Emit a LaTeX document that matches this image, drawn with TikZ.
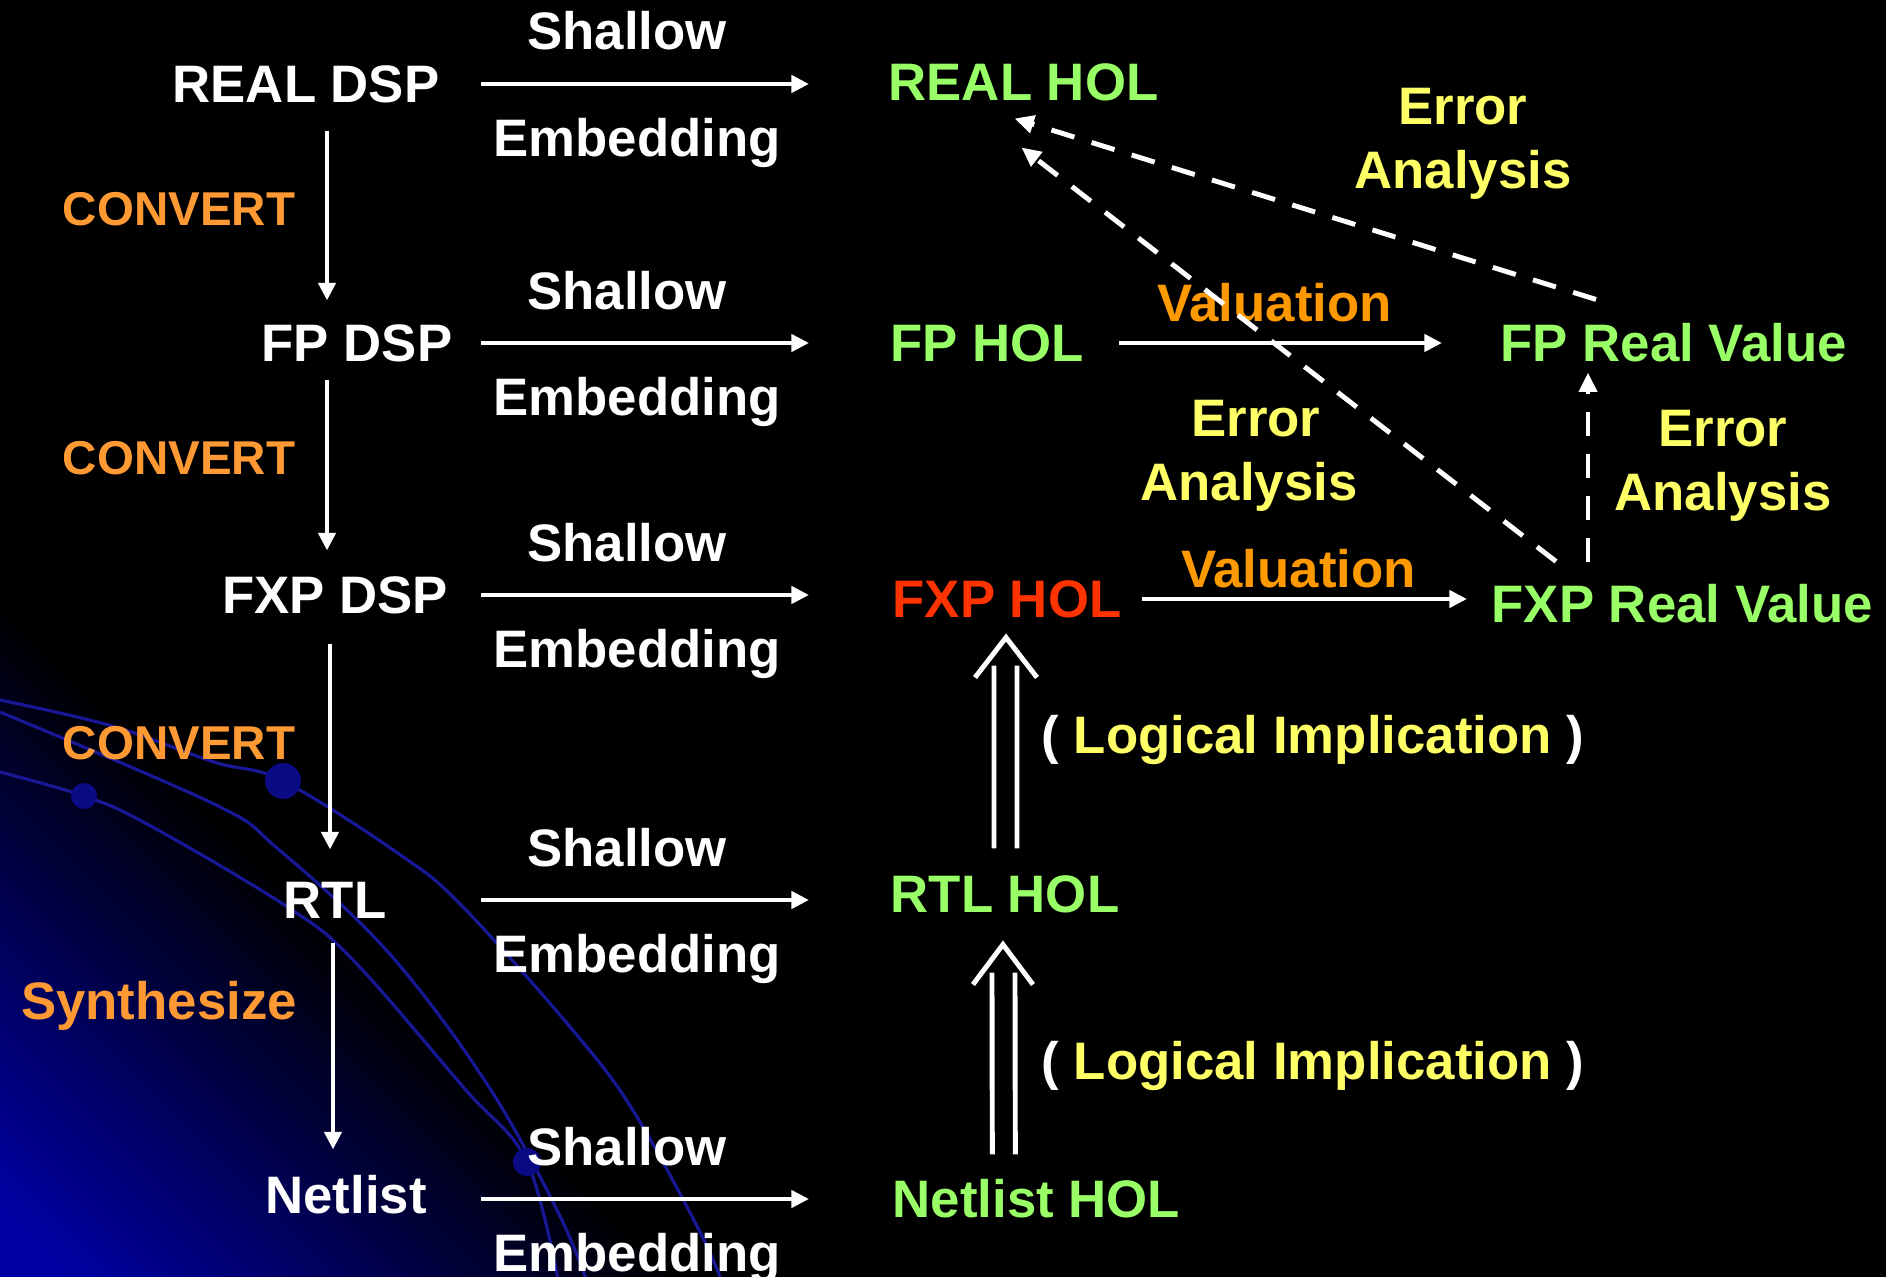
\documentclass[tikz,border=0pt]{standalone}
\usepackage{fontspec}
\setmainfont{Liberation Sans}
\usetikzlibrary{arrows.meta}
\definecolor{holgreen}{RGB}{153,255,102}
\definecolor{holred}{RGB}{255,51,0}
\definecolor{cvtorange}{RGB}{255,153,51}
\definecolor{valorange}{RGB}{255,153,0}
\definecolor{erryellow}{RGB}{255,255,102}
\definecolor{bgblue}{RGB}{0,0,165}
\definecolor{curveblue}{RGB}{24,24,150}
\definecolor{dotblue}{RGB}{10,10,130}

\begin{document}
\begin{tikzpicture}[x=0.01cm,y=-0.01cm,
  lbl/.style={inner sep=0pt,text height=10.7pt,text depth=0pt,font=\fontsize{15}{18}\selectfont\bfseries},
  dspnode/.style={lbl,white},
  holnode/.style={lbl,holgreen,anchor=west},
  cvtlbl/.style={inner sep=0pt,text height=9.7pt,text depth=0pt,font=\fontsize{13.5}{16}\selectfont\bfseries,cvtorange},
  vallbl/.style={lbl,valorange},
  errlbl/.style={lbl,erryellow},
  hsarrow/.style={white,line width=1.3pt,-{Triangle[length=5pt,width=4.8pt]}},
  dasharrow/.style={white,line width=1.4pt,dash pattern=on 0.24cm off 0.18cm,-{Triangle[length=5.5pt,width=5pt]}},
  impline/.style={white,line width=1.4pt},
  bgcurve/.style={curveblue,line width=0.9pt}]
\useasboundingbox (0,0) rectangle (1886,1277);
\fill[black] (0,0) rectangle (1886,1277);
\begin{scope}
\clip (0,0) rectangle (1886,1277);
\begin{scope}[rotate around={45:(0,1277)}]
\fill[bgblue] (-400,-300) rectangle (42,2900);
\foreach \k [evaluate=\k as \pct using 100-2.3*\k] in {0,...,43}
  \fill[bgblue!\pct!black] (40+10*\k,-300) rectangle (52+10*\k,2900);
\end{scope}
\draw[bgcurve] plot[smooth,tension=0.6] coordinates {(0,700) (112,726) (214,762) (283,781) (402,856) (464,908) (576,1034) (634,1112) (700,1232) (725,1290)};
\draw[bgcurve] plot[smooth,tension=0.6] coordinates {(0,712) (214,804) (277,848) (388,952) (487,1084) (558,1212) (590,1290)};
\draw[bgcurve] plot[smooth,tension=0.6] coordinates {(0,772) (84,796) (147,824) (286,906) (353,960) (464,1088) (527,1162) (560,1290)};
\fill[dotblue] (283,781) circle (0.18cm);
\fill[dotblue] (84,796) circle (0.13cm);
\fill[dotblue] (527,1162) circle (0.14cm);
\end{scope}

\node[dspnode] (real-dsp) at (306,84) {REAL DSP};
\node[dspnode] (fp-dsp) at (357,343) {FP DSP};
\node[dspnode] (fxp-dsp) at (335,595) {FXP DSP};
\node[dspnode] (rtl) at (335,900) {RTL};
\node[dspnode] (netlist) at (346,1195) {Netlist};

\node[holnode] (real-hol) at (888,82) {REAL HOL};
\node[holnode] (fp-hol) at (890,343) {FP HOL};
\node[holnode,holred] (fxp-hol) at (892,599) {FXP HOL};
\node[holnode] (rtl-hol) at (890,894) {RTL HOL};
\node[holnode] (netlist-hol) at (892,1199) {Netlist HOL};
\node[holnode] (fp-real) at (1500,343) {FP Real Value};
\node[holnode] (fxp-real) at (1491,604) {FXP Real Value};

\node[cvtlbl] (cvt-a) at (179,208) {CONVERT};
\node[cvtlbl] (cvt-b) at (179,457) {CONVERT};
\node[cvtlbl] (cvt-c) at (179,742) {CONVERT};
\node[lbl,cvtorange] (synth) at (159,1001) {Synthesize};

\coordinate (emb-l) at (481,0);
\coordinate (emb-r) at (809,0);
\draw[hsarrow] (real-dsp -| emb-l) -- (real-dsp -| emb-r) node[dspnode,midway,above=0.32cm,xshift=-0.18cm] (sh-a) {Shallow} node[dspnode,midway,below=0.33cm,xshift=-0.08cm] (em-a) {Embedding};
\draw[hsarrow] (fp-dsp -| emb-l) -- (fp-dsp -| emb-r) node[dspnode,midway,above=0.31cm,xshift=-0.18cm] (sh-b) {Shallow} node[dspnode,midway,below=0.33cm,xshift=-0.08cm] (em-b) {Embedding};
\draw[hsarrow] (fxp-dsp -| emb-l) -- (fxp-dsp -| emb-r) node[dspnode,midway,above=0.31cm,xshift=-0.18cm] (sh-c) {Shallow} node[dspnode,midway,below=0.33cm,xshift=-0.08cm] (em-c) {Embedding};
\draw[hsarrow] (rtl -| emb-l) -- (rtl -| emb-r) node[dspnode,midway,above=0.31cm,xshift=-0.18cm] (sh-d) {Shallow} node[dspnode,midway,below=0.33cm,xshift=-0.08cm] (em-d) {Embedding};
\draw[hsarrow] (netlist-hol -| emb-l) -- (netlist-hol -| emb-r) node[dspnode,midway,above=0.31cm,xshift=-0.18cm] (sh-e) {Shallow} node[dspnode,midway,below=0.33cm,xshift=-0.08cm] (em-e) {Embedding};

\coordinate (col-a) at (327,0);
\coordinate (col-b) at (330,0);
\coordinate (col-c) at (333,0);
\draw[hsarrow,shorten <=0.27cm,shorten >=0.23cm] (real-dsp.south -| col-a) -- (fp-dsp.north -| col-a);
\draw[hsarrow,shorten <=0.17cm,shorten >=0.25cm] (fp-dsp.south -| col-a) -- (fxp-dsp.north -| col-a);
\draw[hsarrow,shorten <=0.29cm,shorten >=0.31cm] (fxp-dsp.south -| col-b) -- (rtl.north -| col-b);
\draw[hsarrow,shorten <=0.23cm,shorten >=0.26cm] (rtl.south -| col-c) -- (netlist.north -| col-c);

\draw[hsarrow,shorten <=0.34cm,shorten >=0.58cm] (fp-hol.east) -- (fp-real.west) node[vallbl,midway,above=0.19cm,xshift=-0.18cm] (val-a) {Valuation};
\draw[hsarrow,shorten <=0.2cm,shorten >=0.24cm] (fxp-hol.east) -- (fxp-hol.east -| fxp-real.west) node[vallbl,midway,above=0.09cm,xshift=-0.08cm] (val-b) {Valuation};

\node[errlbl] (err-a1) at (1463,106) {Error};
\node[errlbl] (err-a2) at (1463,170) {Analysis};
\node[errlbl] (err-b1) at (1256,418) {Error};
\node[errlbl] (err-b2) at (1249,482) {Analysis};
\node[errlbl] (err-c1) at (1723,428) {Error};
\node[errlbl] (err-c2) at (1723,492) {Analysis};

\draw[impline] ([shift={(-11,-26)}]rtl-hol.north) -- ([shift={(-13,47)}]fxp-hol.south);
\draw[impline] ([shift={(12,-26)}]rtl-hol.north) -- ([shift={(10,47)}]fxp-hol.south);
\draw[impline,line join=miter] ([shift={(-32,59)}]fxp-hol.south) -- ([shift={(-1,19)}]fxp-hol.south) -- ([shift={(30,59)}]fxp-hol.south);
\node[lbl,erryellow,anchor=west] (impl-a) at (1041,735) {{\color{white}(} Logical Implication {\color{white})}};

\draw[impline] ([shift={(-44,-25)}]netlist-hol.north) -- ([shift={(-13,59)}]rtl-hol.south);
\draw[impline] ([shift={(-21,-25)}]netlist-hol.north) -- ([shift={(10,59)}]rtl-hol.south);
\draw[impline,line join=miter] ([shift={(-32,71)}]rtl-hol.south) -- ([shift={(-2,31)}]rtl-hol.south) -- ([shift={(28,71)}]rtl-hol.south);
\node[lbl,erryellow,anchor=west] (impl-b) at (1041,1061) {{\color{white}(} Logical Implication {\color{white})}};

\draw[dasharrow] ([shift={(96,-24)}]fp-real.north west) -- ([shift={(-9,17)}]real-hol.south);
\draw[dasharrow] ([shift={(65,-23)}]fxp-real.north west) -- ([shift={(-2,46)}]real-hol.south);
\draw[dasharrow] ([shift={(97,-22)}]fxp-real.north west) -- ([shift={(88,10)}]fp-real.south west);
\end{tikzpicture}
\end{document}
